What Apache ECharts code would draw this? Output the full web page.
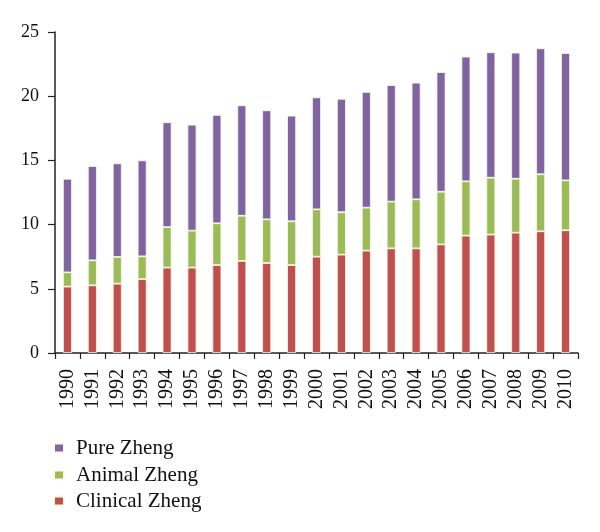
<!DOCTYPE html>
<html>
<head>
<meta charset="utf-8">
<script src="https://cdn.jsdelivr.net/npm/echarts@6/dist/echarts.min.js"></script>
<style>html,body{margin:0;padding:0;background:#fff;}#c{width:600px;height:532px;}</style>
</head>
<body>
<div id="c"></div>
<script>
const years = ['1990','1991','1992','1993','1994','1995','1996','1997','1998','1999','2000','2001','2002','2003','2004','2005','2006','2007','2008','2009','2010'];
const clinical = [5.17,5.27,5.40,5.76,6.65,6.65,6.85,7.17,7.01,6.85,7.50,7.66,7.97,8.15,8.15,8.46,9.14,9.22,9.37,9.48,9.56];
const animal = [1.11,1.95,2.08,1.77,3.16,2.88,3.25,3.52,3.40,3.41,3.69,3.30,3.35,3.64,3.82,4.10,4.23,4.43,4.20,4.44,3.89];
const pure = [7.29,7.34,7.29,7.47,8.16,8.25,8.44,8.60,8.49,8.22,8.72,8.84,9.01,9.08,9.08,9.32,9.71,9.77,9.82,9.81,9.91];
const legendNames = ['Pure Zheng','Animal Zheng','Clinical Zheng'];

const font = 'Liberation Serif';
const chart = echarts.init(document.getElementById('c'));
const mk = (name, data, color) => ({
  name, type: 'bar', stack: 'total', data, barWidth: '36%',
  itemStyle: { color, borderColor: '#fdfbe8', borderWidth: 0.8 }
});
const legendTops = [432, 459, 485];
chart.setOption({
  animation: false,
  backgroundColor: '#fff',
  grid: { left: 55, right: 22, top: 32, bottom: 179, containLabel: false },
  legend: legendNames.map((n, i) => ({
    orient: 'vertical', left: 48, top: legendTops[i],
    itemWidth: 10, itemHeight: 9, icon: 'rect', data: [n],
    textStyle: { fontFamily: font, fontSize: 21, color: '#111', padding: [0,0,0,7], lineHeight: 22 }
  })),
  xAxis: {
    type: 'category', data: years,
    axisLine: { lineStyle: { color: '#222', width: 1.5 } },
    axisTick: { show: true, length: 6, lineStyle: { color: '#222', width: 1.2 } },
    axisLabel: { rotate: 90, fontFamily: font, fontSize: 20, color: '#111', margin: 16, interval: 0 }
  },
  yAxis: {
    type: 'value', min: 0, max: 25, interval: 5,
    splitLine: { show: false },
    axisLine: { show: true, lineStyle: { color: '#222', width: 1.5 } },
    axisTick: { show: true, length: 7, lineStyle: { color: '#222', width: 1.2 } },
    axisLabel: { fontFamily: font, fontSize: 18, color: '#111', margin: 16 }
  },
  series: [
    mk('Clinical Zheng', clinical, '#C0504D'),
    mk('Animal Zheng', animal, '#9BBB59'),
    mk('Pure Zheng', pure, '#8064A2')
  ]
});
</script>
</body>
</html>
